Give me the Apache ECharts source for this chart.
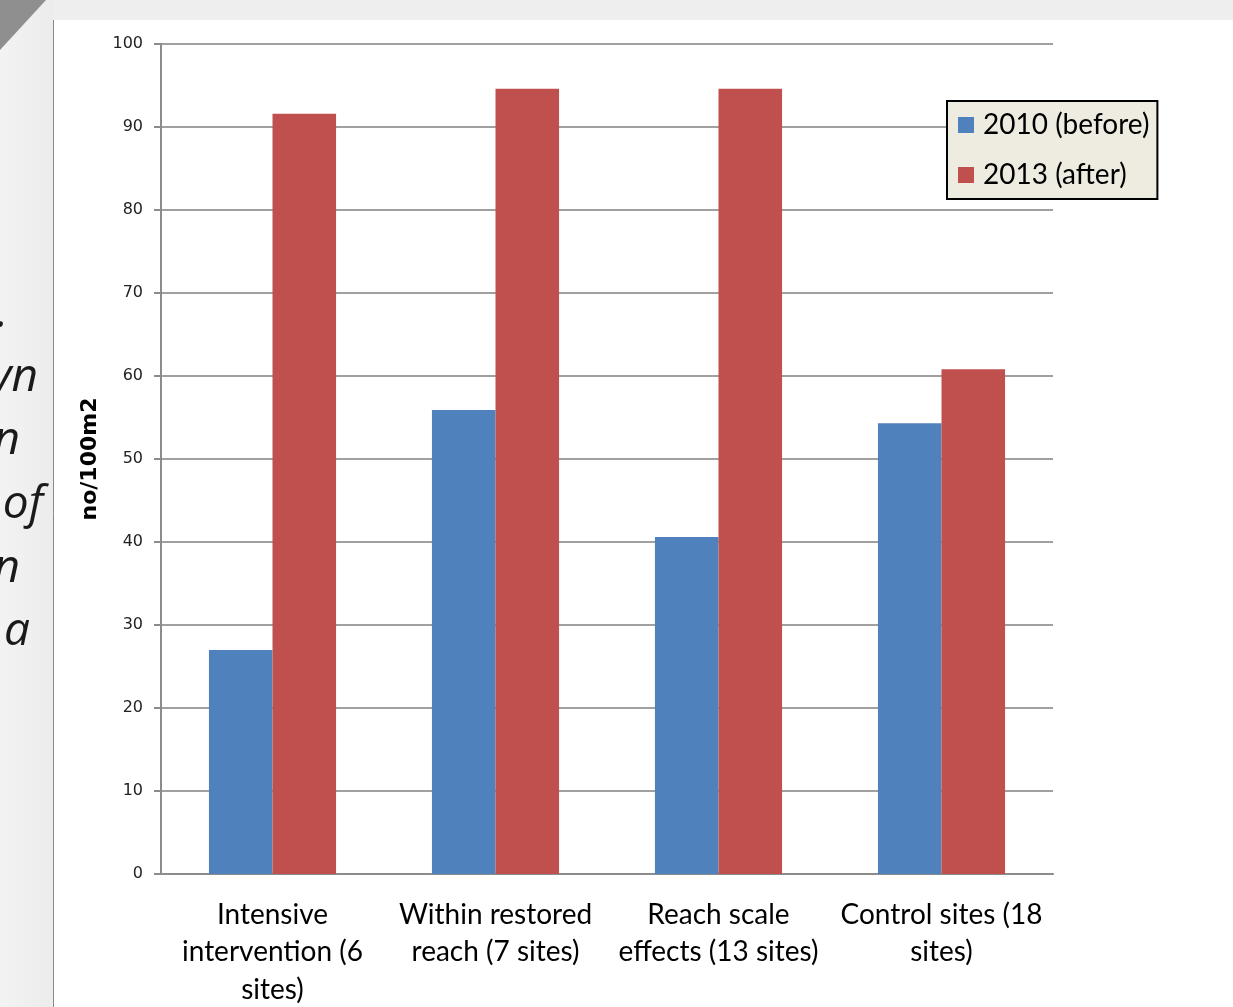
<!DOCTYPE html>
<html>
<head>
<meta charset="utf-8">
<title>no/100m2 before and after</title>
<script src="https://cdn.jsdelivr.net/npm/echarts@6/dist/echarts.min.js"></script>
<style>
  html, body { margin: 0; padding: 0; background: #fff; }
  #chart { width: 1233px; height: 1007px; }
</style>
</head>
<body>
<div id="chart"></div>
<script>
const categories = [
    'Intensive\nintervention (6\nsites)',
    'Within restored\nreach (7 sites)',
    'Reach scale\neffects (13 sites)',
    'Control sites (18\nsites)'
];
const before2010 = [27.0, 55.9, 40.6, 54.3];
const after2013 = [91.6, 94.6, 94.6, 60.8];
const seriesNames = ['2010 (before)', '2013 (after)'];
// cut-off words from the slide text left of the chart
const sideText = ['.', 'yn', 'n', 'of', 'n', 'a'];
const sideTextRight = [8, 38, 20, 43, 20, 30];

onload = () => {
    const myChart = echarts.init(document.getElementById('chart'));

    // slide background pieces (not data)
    let deco = [
        { type: 'rect', shape: { x: 0, y: 0, width: 1233, height: 20 }, style: { fill: '#eeeeee' }, silent: true },
        { type: 'rect', shape: { x: 0, y: 0, width: 53, height: 1007 },
          style: { fill: new echarts.graphic.LinearGradient(0, 0, 1, 0, [
              { offset: 0, color: '#f3f3f3' }, { offset: 1, color: '#ececec' }]) }, silent: true },
        { type: 'polygon', shape: { points: [[0, 0], [46, 0], [0, 50]] },
          style: { fill: '#8f8f8f' }, silent: true },
        { type: 'line', shape: { x1: 53.5, y1: 20, x2: 53.5, y2: 1007 },
          style: { stroke: '#8a8a8a', lineWidth: 1 }, silent: true }
    ];
    sideText.forEach((t, i) => {
        deco.push({
            type: 'text', silent: true,
            style: {
                text: t, x: sideTextRight[i], y: 330 + i * 63.6 - 16,
                align: 'right', verticalAlign: 'middle',
                font: 'italic 46px "Open Sans"', fill: '#1a1a1a'
            }
        });
    });

    const option = {
        backgroundColor: '#fff',
        animation: false,
        graphic: deco,
        grid: { left: 161, top: 44, right: 180, bottom: 133, outerBoundsMode: 'none' },
        legend: {
            orient: 'vertical',
            left: 947, top: 101,
            backgroundColor: '#eeece1',
            borderColor: '#000',
            borderWidth: 2,
            borderRadius: 0,
            padding: [10, 8, 10, 11],
            itemWidth: 16, itemHeight: 16, itemGap: 22,
            icon: 'rect',
            textStyle: { fontFamily: 'Lato', fontSize: 28, color: '#000', padding: [0, 0, 0, 4] },
            data: seriesNames
        },
        xAxis: {
            type: 'category',
            data: categories,
            axisLine: { lineStyle: { color: '#8c8c8c', width: 2 } },
            axisTick: { show: false },
            axisLabel: {
                interval: 0, margin: 22, color: '#000',
                fontFamily: 'Lato', fontSize: 28, lineHeight: 37.5
            }
        },
        yAxis: {
            type: 'value',
            min: 0, max: 100, interval: 10,
            name: 'no/100m2',
            nameLocation: 'middle',
            nameGap: 55,
            nameTextStyle: { fontFamily: 'DejaVu Sans', fontWeight: 'bold', fontSize: 22, color: '#000' },
            axisLine: { show: true, lineStyle: { color: '#8c8c8c', width: 2 } },
            axisTick: { show: true, length: 7, lineStyle: { color: '#8c8c8c', width: 2 } },
            axisLabel: { margin: 18, color: '#222', fontFamily: 'DejaVu Sans', fontSize: 16 },
            splitLine: { lineStyle: { color: '#a0a0a0', width: 2 } }
        },
        series: [
            {
                name: seriesNames[0], type: 'bar', data: before2010,
                barGap: '0%', barCategoryGap: '43%',
                itemStyle: { color: '#4f81bd' }
            },
            {
                name: seriesNames[1], type: 'bar', data: after2013,
                barGap: '0%', barCategoryGap: '43%',
                itemStyle: { color: '#c0504d' }
            }
        ]
    };

    myChart.setOption(option);
};
</script>
</body>
</html>
